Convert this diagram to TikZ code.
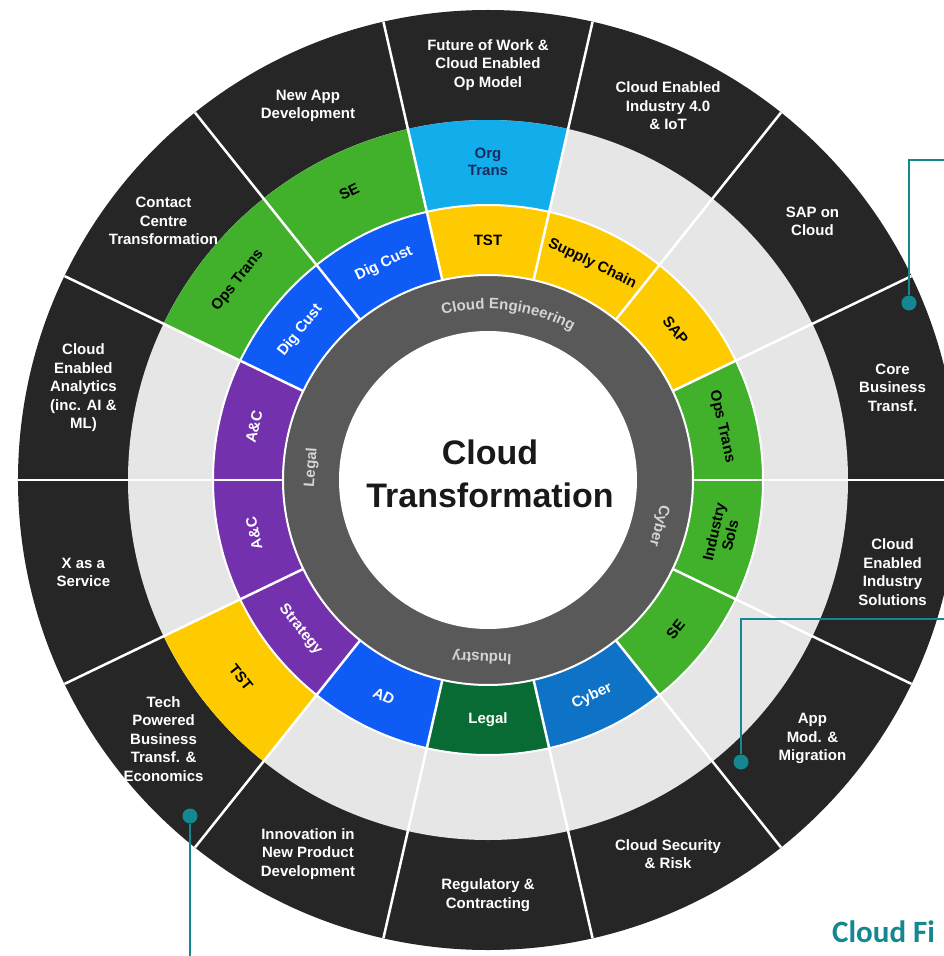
\documentclass[tikz,border=0pt]{standalone}
\usepackage{fontspec}
\setmainfont{Liberation Sans}
\newfontfamily\carlito{Carlito}
\usetikzlibrary{decorations.text}

\definecolor{negro}{HTML}{262626}
\definecolor{grisclaro}{HTML}{E6E6E6}
\definecolor{grisoscuro}{HTML}{595959}
\definecolor{grisletra}{HTML}{D4D4D4}
\definecolor{celeste}{HTML}{12AEEB}
\definecolor{verde}{HTML}{41B02B}
\definecolor{amarillo}{HTML}{FECB00}
\definecolor{azul}{HTML}{0F5BF6}
\definecolor{azulcyber}{HTML}{0E72C7}
\definecolor{verdeosc}{HTML}{086B33}
\definecolor{morado}{HTML}{7431AE}
\definecolor{marino}{HTML}{1A2C5E}
\definecolor{petroleo}{HTML}{138891}

\begin{document}
\begin{tikzpicture}[x=1pt,y=1pt,
    etqext/.style={text=white, font=\bfseries\fontsize{15}{18.5}\selectfont, align=center},
    etqint/.style={font=\bfseries\fontsize{15}{16.5}\selectfont, align=center, inner sep=0pt},
    etqgris/.style={text=grisletra, font=\bfseries\fontsize{15}{15}\selectfont},
    separador/.style={white, line width=2.5pt},
    punto/.style={circle, fill=petroleo, minimum size=15pt, inner sep=0pt},
    conector/.style={petroleo, line width=2.5pt}]
    % Marco
    \useasboundingbox (-488,-476) rectangle (456,480);
    \clip (-488,-476) rectangle (456,480);
    \fill[white] (-488,-476) rectangle (456,480);

    % Anillo exterior y anillo gris claro
    \fill[negro] (0,0) circle[radius=470];
    \fill[grisclaro] (0,0) circle[radius=360];

    % Segundo anillo: segmentos de color
    \foreach \k/\col in {3/celeste,4/verde,5/verde,8/amarillo} {
        \fill[\col] ({\k*360/14}:275) arc[start angle={\k*360/14}, delta angle=360/14, radius=275]
            -- ({(\k+1)*360/14}:360) arc[start angle={(\k+1)*360/14}, delta angle=-360/14, radius=360] -- cycle;
    }

    % Tercer anillo
    \foreach \col [count=\k from 0] in {verde,amarillo,amarillo,amarillo,azul,azul,morado,morado,morado,azul,verdeosc,azulcyber,verde,verde} {
        \fill[\col] ({\k*360/14}:205) arc[start angle={\k*360/14}, delta angle=360/14, radius=205]
            -- ({(\k+1)*360/14}:275) arc[start angle={(\k+1)*360/14}, delta angle=-360/14, radius=275] -- cycle;
    }

    % Anillo gris oscuro y centro
    \fill[grisoscuro] (0,0) circle[radius=205];
    \fill[white] (0,0) circle[radius=149];

    % Separadores
    \draw[white, line width=2pt] (0,0) circle[radius=205];
    \draw[white, line width=2pt] (0,0) circle[radius=275];
    \foreach \k in {0,...,13} {
        \draw[separador] ({\k*360/14}:205) -- ({\k*360/14}:470);
    }

    % Etiquetas exteriores
    \foreach \txt [count=\i from 0] in {{Core\\Business\\Transf.}, {SAP on\\Cloud},
        {Cloud Enabled\\Industry 4.0\\\& IoT}, {Future of Work \&\\Cloud Enabled\\Op Model},
        {New App\\Development}, {Contact\\Centre\\Transformation},
        {Cloud\\Enabled\\Analytics\\(inc. AI \&\\ML)}, {X as a\\Service},
        {Tech\\Powered\\Business\\Transf. \&\\Economics}, {Innovation in\\New Product\\Development},
        {Regulatory \&\\Contracting}, {Cloud Security\\\& Risk},
        {App\\Mod. \&\\Migration}, {Cloud\\Enabled\\Industry\\Solutions}} {
        \node[etqext] (ext\i) at ({12.857+\i*360/14}:415) {\txt};
    }

    % Etiquetas del segundo anillo
    \node[etqint, text=marino] (org) at (90:318) {Org\\Trans};
    \node[etqint, rotate=25.71] (se) at (115.71:320) {SE};
    \node[etqint, rotate=51.43] (ops) at (141.43:320) {Ops Trans};
    \node[etqint, rotate=-51.43] (tst) at (218.57:316) {TST};

    % Etiquetas del tercer anillo
    \foreach \ang/\rot/\col/\txt [count=\i] in {12.857/-77.14/black/Ops Trans, 38.571/-51.43/black/SAP,
        64.286/-25.71/black/Supply Chain, 90/0/black/TST, 115.71/25.71/white/Dig Cust,
        141.43/51.43/white/Dig Cust, 167.14/77.14/white/A\&C, 192.86/102.86/white/A\&C,
        218.57/-51.43/white/Strategy, 244.29/-25.71/white/AD, 270/0/white/Legal,
        295.71/25.71/white/Cyber, 321.43/51.43/black/SE, 347.14/77.14/black/{Industry\\Sols}} {
        \node[etqint, text=\col, rotate=\rot] (int\i) at (\ang:240) {\txt};
    }

    % Anillo gris: textos
    \path[decorate, decoration={text along path, text align=center,
        text={|\bfseries\fontsize{15}{15}\selectfont\color{grisletra}|Cloud Engineering}}]
        (125:171) arc[start angle=125, end angle=41, radius=171];
    \node[etqgris, rotate=-105] (cyber) at (-15:177) {Cyber};
    \node[etqgris, rotate=-182] (industry) at (-92:177) {Industry};
    \node[etqgris, rotate=86] (legal) at (176:177) {Legal};

    % Centro
    \node[font=\bfseries\fontsize{34}{43}\selectfont, align=center, text=black!90] (centro) at (2,6) {Cloud\\Transformation};

    % Conectores
    \node[punto] (p1) at (421,177) {};
    \node[punto] (p2) at (253,-282) {};
    \node[punto] (p3) at (-298,-336) {};
    \coordinate (f1) at (456,320);
    \coordinate (f2) at (456,-139);
    \coordinate (f3) at (-298,-476);
    \draw[conector] (p1) |- (f1);
    \draw[conector] (p2) |- (f2);
    \draw[conector] (p3) -- (f3);

    \node[anchor=base west, text=petroleo, font=\carlito\bfseries\fontsize{31}{31}\selectfont, inner sep=0pt] (pie) at (344,-462) {Cloud Fi};
\end{tikzpicture}
\end{document}
